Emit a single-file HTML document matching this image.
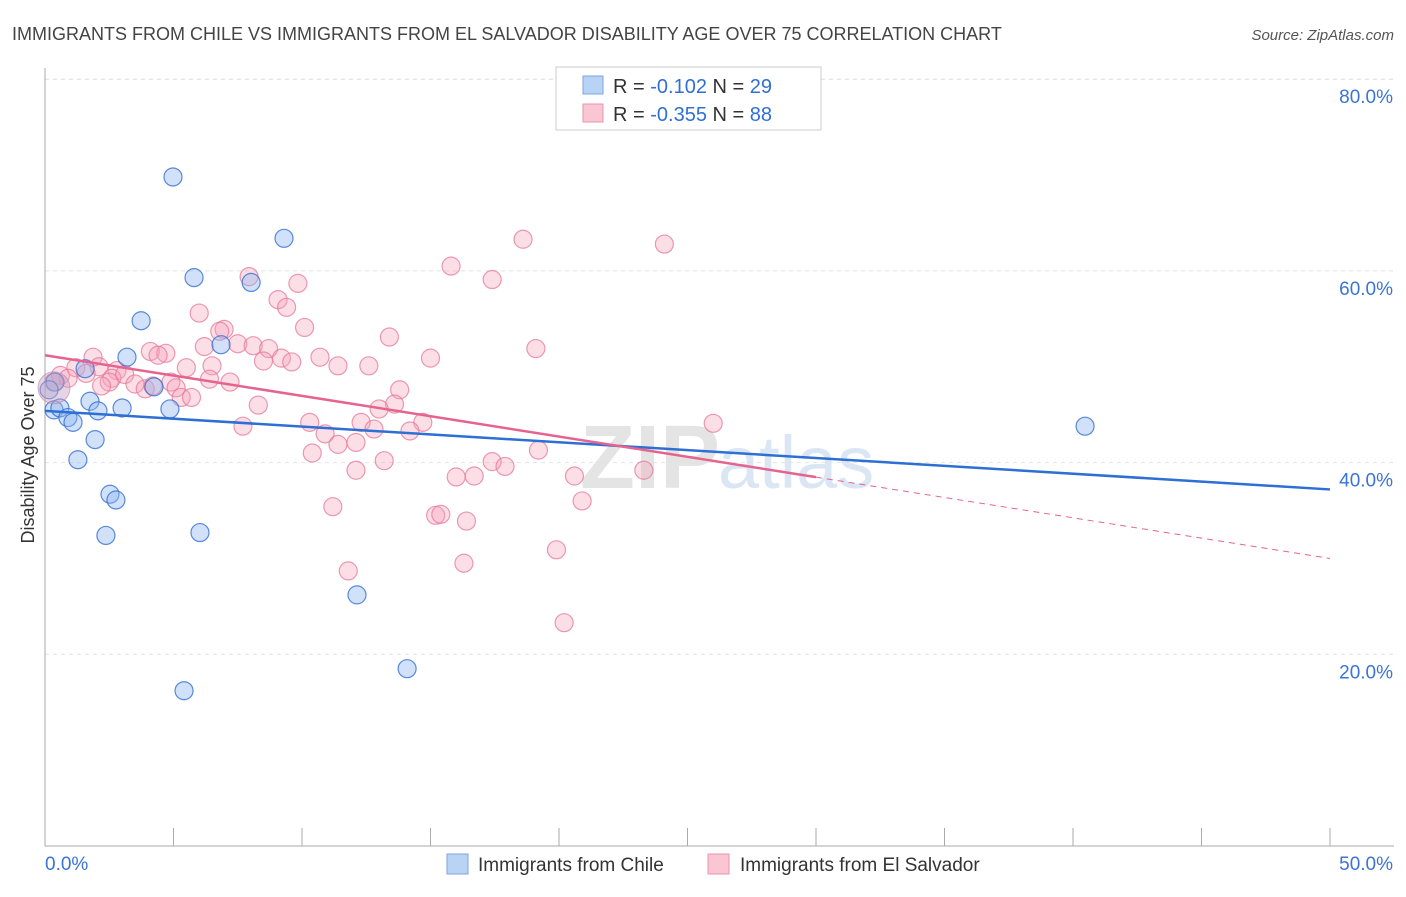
<!DOCTYPE html>
<html><head><meta charset="utf-8"><style>
body{margin:0;background:#fff;font-family:"Liberation Sans",sans-serif}
svg text{font-family:"Liberation Sans",sans-serif}
</style></head><body>
<svg id="c" width="1406" height="892">
<text x="12" y="40" font-size="18" fill="#444">IMMIGRANTS FROM CHILE VS IMMIGRANTS FROM EL SALVADOR DISABILITY AGE OVER 75 CORRELATION CHART</text>
<text x="1394" y="40" font-size="15" fill="#555" font-style="italic" text-anchor="end">Source: ZipAtlas.com</text>
<text x="720" y="488" font-size="90" fill="#e4e4e4" text-anchor="end" font-weight="bold" font-family="Liberation Serif">ZIP</text>
<text x="718" y="488" font-size="74" fill="#dbe6f5">atlas</text>
<g id="grid"></g><g id="axes"></g><g id="pts"></g><g id="lines"></g>
<text transform="translate(34,455) rotate(-90)" font-size="18" fill="#333" text-anchor="middle">Disability Age Over 75</text>
<g>
<rect x="556" y="67" width="265" height="63" fill="#fff" stroke="#ccc"/>
<rect x="583" y="76" width="20" height="18" fill="#b9d3f5" stroke="#7aa6e0"/>
<rect x="583" y="104" width="20" height="18" fill="#f9c6d4" stroke="#eb93ad"/>
<text x="613" y="93" font-size="20" fill="#333">R = <tspan fill="#2f6fd6">-0.102</tspan>   N = <tspan fill="#2f6fd6">29</tspan></text>
<text x="613" y="121" font-size="20" fill="#333">R = <tspan fill="#2f6fd6">-0.355</tspan>   N = <tspan fill="#2f6fd6">88</tspan></text>
</g>
<g>
<rect x="447" y="854" width="21" height="20" fill="#b9d3f5" stroke="#7aa6e0"/>
<text x="478" y="871" font-size="19" fill="#333">Immigrants from Chile</text>
<rect x="708" y="854" width="21" height="20" fill="#f9c6d4" stroke="#eb93ad"/>
<text x="740" y="871" font-size="19" fill="#333">Immigrants from El Salvador</text>
</g>
</svg>
<script>
const yTicks=[20,40,60,80];
const xTickLabels=["0.0%","50.0%"];
const chileX=[4.98,9.30,5.80,8.02,3.74,3.19,6.85,4.24,1.56,0.39,1.75,0.35,0.58,0.89,1.09,2.06,3.00,4.86,1.95,1.28,2.53,2.76,2.37,6.03,12.14,14.09,5.41,40.47,0.16];
const chileY=[69.8,63.4,59.3,58.8,54.8,51.0,52.3,47.9,49.8,48.4,46.4,45.5,45.7,44.7,44.2,45.4,45.7,45.6,42.4,40.3,36.7,36.1,32.4,32.7,26.2,18.5,16.2,43.8,47.6];
const salX=[18.6,24.1,15.8,17.4,7.94,9.84,9.07,9.4,6.0,10.1,6.97,6.8,13.4,19.1,7.5,6.2,8.1,8.7,4.1,4.7,4.4,1.87,9.2,10.7,15.0,8.5,9.6,11.4,12.6,5.5,6.5,2.1,1.2,1.6,2.8,0.6,0.9,2.6,3.1,3.5,2.5,4.9,6.4,7.2,5.1,2.2,3.9,4.2,0.35,5.3,5.7,13.8,13.6,8.3,13.0,10.3,12.3,14.7,26.0,7.7,12.8,14.2,10.9,12.1,11.4,10.4,19.2,13.2,17.4,17.9,12.1,23.3,16.7,16.0,20.6,20.9,11.2,15.2,15.4,16.4,19.9,16.3,11.8,20.2];
const salY=[63.3,62.8,60.5,59.1,59.4,58.7,57.0,56.2,55.6,54.1,53.9,53.7,53.1,51.9,52.4,52.1,52.2,51.9,51.6,51.4,51.2,51.0,50.9,51.0,50.9,50.6,50.5,50.1,50.1,49.9,50.1,50.0,49.9,49.3,49.6,49.1,48.8,48.8,49.2,48.2,48.4,48.4,48.7,48.4,47.8,48.0,47.7,48.0,48.4,46.8,46.8,47.6,46.1,46.0,45.6,44.2,44.2,44.2,44.1,43.8,43.5,43.3,43.0,42.1,41.9,41.0,41.3,40.2,40.1,39.6,39.2,39.2,38.6,38.5,38.6,36.0,35.4,34.5,34.6,33.9,30.9,29.5,28.7,23.3];
const chileLine=[45.4,37.2];
const salLine=[51.2,30.0];
const X0=45,X1=1330,Y0=846,PY=9.585;
const xs=v=>X0+(v/50)*(X1-X0), ys=v=>Y0-v*PY;
const NS="http://www.w3.org/2000/svg";
function mk(t,a,p){const e=document.createElementNS(NS,t);for(const k in a)e.setAttribute(k,a[k]);p.appendChild(e);return e;}
const g=document.getElementById('grid'),ax=document.getElementById('axes'),pts=document.getElementById('pts'),ln=document.getElementById('lines');
mk('line',{x1:X0,x2:1394,y1:ys(80)+0,y2:ys(80),stroke:'#ddd','stroke-dasharray':'4,4'},g);
yTicks.forEach(t=>{
 const l=mk('line',{x1:X0,x2:1394,y1:ys(t),y2:ys(t),stroke:'#e2e2e2','stroke-dasharray':'4,4'},g);
 
 
 const tx=mk('text',{x:1393,y:ys(t)+24,'font-size':19,fill:'#3b74d6','text-anchor':'end'},ax);
 tx.textContent=t.toFixed(1)+'%';
 
 
});
mk('line',{x1:X0,x2:X0,y1:68,y2:Y0,stroke:'#aaa'},ax);
mk('line',{x1:X0,x2:1394,y1:Y0,y2:Y0,stroke:'#aaa'},ax);
for(let i=0;i<=10;i++){mk('line',{x1:xs(i*5),x2:xs(i*5),y1:Y0,y2:Y0-18,stroke:'#aaa'},ax);}
[[0,'start',45],[1,'end',1393]].forEach(([i,a,x])=>{
 const tx=mk('text',{x:x,y:870,'font-size':19,fill:'#3b74d6','text-anchor':a},ax);
 tx.textContent=xTickLabels[i];
 
 
});
function drawPts(X,Y,fill,stroke,name){
 X.forEach((x,i)=>{
  const c=mk('circle',{cx:xs(x),cy:ys(Y[i]),r:(i==X.length-1&&name=='chile-point')?9:9,fill:fill,stroke:stroke,'stroke-width':1.2},pts);
  
  
 });
}
drawPts(salX,salY,'rgba(245,160,185,0.35)','rgba(230,120,155,0.75)','el-salvador-point');
drawPts(chileX,chileY,'rgba(140,180,240,0.4)','rgba(50,110,210,0.8)','chile-point');
const big=mk('circle',{cx:xs(0.35),cy:ys(47.8),r:16,fill:'rgba(200,160,190,0.45)',stroke:'rgba(190,130,170,0.6)'},pts);


const at=(l,x)=>l[0]+(l[1]-l[0])*x/50;
let e=mk('line',{x1:xs(0),y1:ys(at(chileLine,0)),x2:xs(50),y2:ys(at(chileLine,50)),stroke:'#2d6fd3','stroke-width':2.5},ln);


e=mk('line',{x1:xs(0),y1:ys(at(salLine,0)),x2:xs(30),y2:ys(at(salLine,30)),stroke:'#e6638f','stroke-width':2.5},ln);


e=mk('line',{x1:xs(30),y1:ys(at(salLine,30)),x2:xs(50),y2:ys(at(salLine,50)),stroke:'#e6638f','stroke-width':1,'stroke-dasharray':'6,5'},ln);


</script>
</body></html>
